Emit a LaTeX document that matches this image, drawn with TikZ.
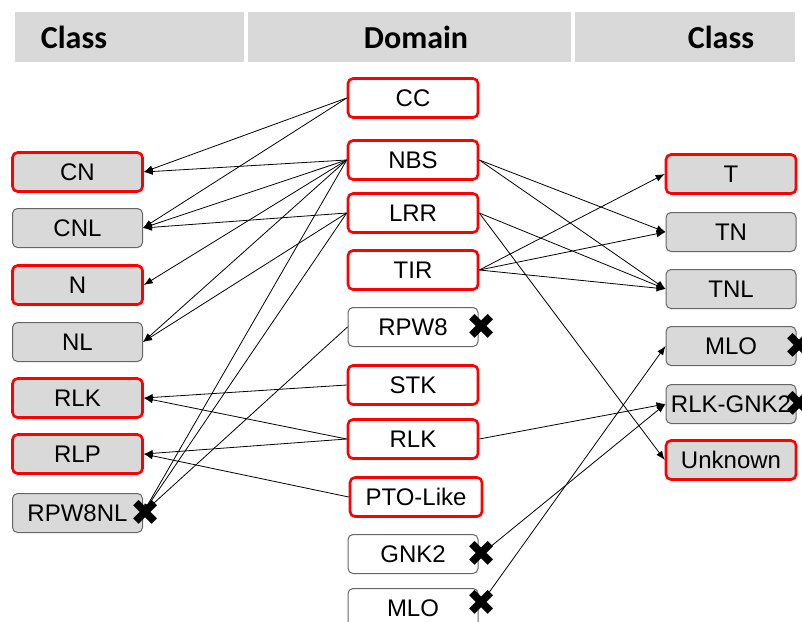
\documentclass[tikz,border=0pt]{standalone}
\usepackage{fontspec}
\setmainfont{Liberation Sans}
\newfontfamily\headfont{Carlito}
\newfontfamily\dingfont{DejaVu Sans}
\usetikzlibrary{arrows.meta,positioning}

\tikzset{
  box/.style={rectangle, rounded corners=5pt, minimum width=130pt, minimum height=39pt,
    inner sep=0pt, font=\fontsize{24}{28}\selectfont},
  redbox/.style={box, draw=red, line width=2.6pt},
  graybox/.style={box, draw=black!60, line width=1pt},
  clsfill/.style={fill=black!15},
  domfill/.style={fill=white},
  link/.style={-{Latex[length=9pt,width=7pt]}, line width=0.8pt},
  nomark/.style={font=\dingfont\fontsize{36}{36}\selectfont, inner sep=0pt},
  headbar/.style={fill=black!15, minimum height=50pt, inner sep=0pt},
  headtxt/.style={font=\headfont\bfseries\fontsize{32}{36}\selectfont, inner sep=0pt}
}

\begin{document}
\begin{tikzpicture}[x=1pt,y=-1pt]
  \useasboundingbox (0,0) rectangle (802,621);
  \clip (0,0) rectangle (802,621);

  % header
  \node[headbar, minimum width=229pt] (hleft) at (129.5,37) {};
  \node[headbar, minimum width=323pt] (hmid) at (409.5,37) {};
  \node[headbar, minimum width=220pt] (hright) at (685,37) {};
  \node[headtxt] (tleft) at (74,37) {Class};
  \node[headtxt] (tmid) at (416,37) {Domain};
  \node[headtxt] (tright) at (721,37) {Class};

  % classes, left
  \node[redbox, clsfill] (lCN) at (77.5,172) {CN};
  \node[graybox, clsfill] (lCNL) at (77.5,228) {CNL};
  \node[redbox, clsfill] (lN) at (77.5,285) {N};
  \node[graybox, clsfill] (lNL) at (77.5,342) {NL};
  \node[redbox, clsfill] (lRLK) at (77.5,398) {RLK};
  \node[redbox, clsfill] (lRLP) at (77.5,454) {RLP};
  \node[graybox, clsfill] (lRPW) at (77.5,513) {RPW8NL};

  % domains
  \node[redbox, domfill] (dCC) at (413,98) {CC};
  \node[redbox, domfill] (dNBS) at (413,160) {NBS};
  \node[redbox, domfill] (dLRR) at (413,213) {LRR};
  \node[redbox, domfill] (dTIR) at (413,270) {TIR};
  \node[graybox, domfill] (dRPW) at (413,327) {RPW8};
  \node[redbox, domfill] (dSTK) at (413,385) {STK};
  \node[redbox, domfill] (dRLK) at (413,439) {RLK};
  \node[redbox, domfill, minimum width=132pt] (dPTO) at (416,497) {PTO-Like};
  \node[graybox, domfill] (dGNK) at (413,554) {GNK2};
  \node[graybox, domfill] (dMLO) at (413,608) {MLO};

  % classes, right
  \node[redbox, clsfill] (rT) at (731,174) {T};
  \node[graybox, clsfill] (rTN) at (731,232) {TN};
  \node[graybox, clsfill] (rTNL) at (731,289) {TNL};
  \node[graybox, clsfill] (rMLO) at (731,346) {MLO};
  \node[graybox, clsfill] (rRG) at (731,404) {RLK-GNK2};
  \node[redbox, clsfill] (rUnk) at (731,460) {Unknown};

  % links to the left
  \draw[link] (dCC.west) -- (lCN.east);
  \draw[link] (dCC.west) -- (lCNL.east);
  \draw[link] (dNBS.west) -- (lCN.east);
  \draw[link] (dNBS.west) -- (lCNL.east);
  \draw[link] (dNBS.west) -- (lN.east);
  \draw[link] (dNBS.west) -- (lNL.east);
  \draw[link] (dNBS.west) -- (lRPW.east);
  \draw[link] (dLRR.west) -- (lCNL.east);
  \draw[link] (dLRR.west) -- (lNL.east);
  \draw[link] (dLRR.west) -- (lRPW.east);
  \draw[link] (dRPW.west) -- (lRPW.east);
  \draw[link] (dSTK.west) -- (lRLK.east);
  \draw[link] (dRLK.west) -- (lRLK.east);
  \draw[link] (dRLK.west) -- (lRLP.east);
  \draw[link] (dPTO.west) -- (lRLP.east);

  % links to the right
  \draw[link] (dNBS.east) -- (rTN.west);
  \draw[link] (dNBS.east) -- (rTNL.west);
  \draw[link] (dLRR.east) -- (rTNL.west);
  \draw[link] (dLRR.east) -- (rUnk.west);
  \draw[link] (dTIR.east) -- (rT.west);
  \draw[link] (dTIR.east) -- (rTN.west);
  \draw[link] (dTIR.east) -- (rTNL.west);
  \draw[link] (dRLK.east) -- (rRG.west);

  % lost domains
  \node[nomark] (xRPWNL) at ([xshift=3pt]lRPW.east) {✖};
  \node[nomark] (xRPW) at ([xshift=3pt]dRPW.east) {✖};
  \node[nomark] (xGNK) at ([xshift=3pt]dGNK.east) {✖};
  \node[nomark] (xMLO) at ([xshift=3pt,yshift=5pt]dMLO.east) {✖};
  \node[nomark] (xrMLO) at ([xshift=3pt]rMLO.east) {✖};
  \node[nomark] (xrRG) at ([xshift=3pt]rRG.east) {✖};

  \draw[link] (xGNK.center) -- (rRG.west);
  \draw[link] (xMLO.center) -- (rMLO.west);
\end{tikzpicture}
\end{document}
